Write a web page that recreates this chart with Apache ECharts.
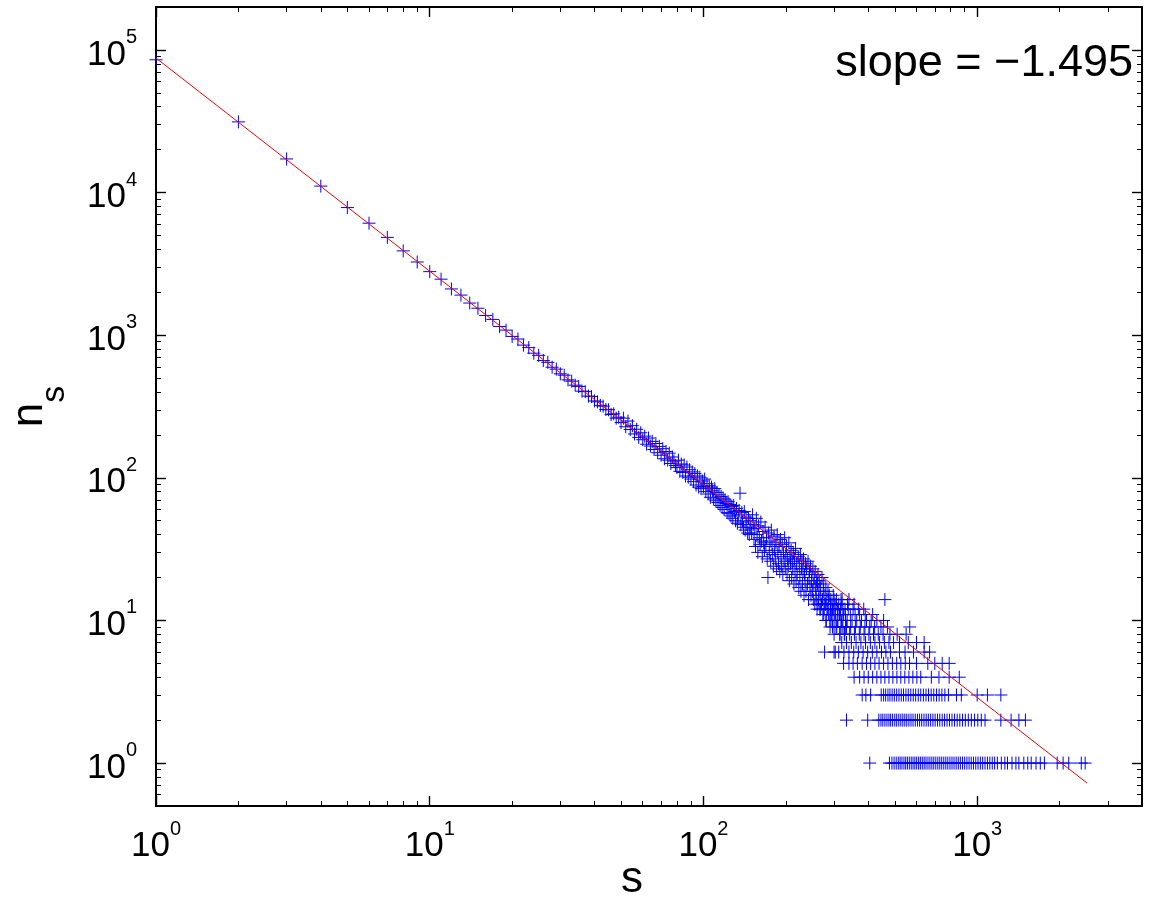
<!DOCTYPE html>
<html><head><meta charset="utf-8">
<script src="https://cdn.jsdelivr.net/npm/echarts@6/dist/echarts.min.js"></script>
<style>html,body{margin:0;padding:0;background:#fff}#c{width:1156px;height:908px}</style>
</head><body><div id="c"></div>
<script>
// ---- axis limits and ticks ----
const xLimits = [1, 4000];
const yLimits = [0.5, 200000];
const xMajorTicks = [1, 10, 100, 1000];
const xMinorTicks = [2,3,4,5,6,7,8,9,20,30,40,50,60,70,80,90,200,300,400,500,600,700,800,900,2000,3000];
const yMajorTicks = [1, 10, 100, 1000, 10000, 100000];
const yMinorTicks = [0.6,0.7,0.8,0.9,2,3,4,5,6,7,8,9,20,30,40,50,60,70,80,90,200,300,400,500,600,700,800,900,
  2000,3000,4000,5000,6000,7000,8000,9000,20000,30000,40000,50000,60000,70000,80000,90000];
const xName = 's';
const slopeText = 'slope = \u22121.495';

// ---- fitted power law line (end points) ----
const fitS = [1, 2520];
const fitN = [87700, 0.724];

// ---- cluster size distribution: [s, n_s] ----
const clusterPoints = [
[1,85300],[2,31300],[3,17200],[4,11100],[5,7850],[6,6100],[7,4850],[8,3900],[9,3260],[10,2790],
[11,2470],[12,2110],[13,1910],[14,1680],[15,1545],[16,1375],[17,1290],[18,1150],[19,1085],[20,980],
[21,940],[22,852],[23,818],[24,748],[25,722],[26,664],[27,645],[28,596],[29,578],[30,536],
[31,524],[32,486],[33,476],[34,446],[35,437],[36,405],[37,402],[38,374],[39,371],[40,346],
[41,341],[42,322],[43,318],[44,301],[45,300],[46,278],[47,281],[48,262],[49,266],[50,244],
[51,262],[52,228],[53,250],[54,218],[55,232],[56,203],[57,219],[58,192],[59,207],[60,185],
[61,196],[62,172],[63,190],[64,167],[65,180],[66,158],[67,174],[68,150],[69,166],[70,144],
[71,160],[72,136],[73,153],[74,133],[75,149],[76,126],[77,140],[78,131],[79,122],[80,118],
[81,133],[82,111],[83,125],[84,109],[85,123],[86,103],[87,119],[88,101],[89,114],[90,98],
[91,110],[92,94],[93,107],[94,89],[95,103],[96,86],[97,101],[98,84],[99,95],[100,87],
[101,98],[102,80],[103,91],[104,77],[105,88],[106,73],[107,86],[108,81],[109,71],[110,84],
[111,69],[112,79],[113,67],[114,76],[115,64],[116,74],[117,62],[118,72],[119,60],[120,70],
[121,66],[122,57],[123,68],[124,56],[125,65],[126,54],[127,63],[128,52],[129,64],[130,58],
[131,50],[132,61],[133,48],[134,55],[135,59],[136,78],[137,47],[138,57],[139,49],[140,45],
[141,58],[142,43],[143,53],[144,47],[145,41],[146,52],[147,40],[148,50],[149,45],[150,41],
[151,55],[152,47],[153,37],[154,44],[155,33],[156,52],[157,40],[158,30],[159,46],[160,38],
[161,34],[162,49],[163,36],[164,28],[165,42],[166,35],[167,31],[168,45],[169,33],[170,38],
[171,27],[172,20],[173,41],[174,30],[175,36],[176,26],[177,43],[178,34],[179,29],[180,24],
[181,39],[182,31],[183,27],[184,35],[185,23],[186,40],[187,30],[188,25],[189,33],[190,22],
[191,37],[192,28],[193,24],[194,34],[195,21],[196,30],[197,26],[198,38],[199,23],[200,29],
[201,33],[202,21],[203,27],[204,24],[205,35],[206,19],[207,28],[208,25],[209,31],[210,20],
[211,26],[212,23],[213,30],[214,18],[215,27],[216,22],[217,32],[218,19],[219,25],[220,21],
[222,28],[223,17],[224,24],[225,20],[226,29],[227,16],[228,23],[229,26],[230,18],[231,22],
[232,27],[233,15],[234,21],[235,19],[236,25],[237,16],[238,23],[240,18],[241,26],[242,14],
[243,20],[244,22],[245,17],[246,24],[247,15],[248,19],[249,21],[250,16],[251,23],[252,14],
[253,18],[254,20],[255,13],[256,22],[257,17],[258,15],[259,19],[260,12],[261,18],[262,21],
[263,14],[264,16],[265,19],[266,12],[267,15],[268,17],[270,13],[271,20],[272,14],[273,11],
[274,16],[275,18],[276,12],[277,6],[278,15],[279,13],[280,17],[281,10],[282,14],[283,12],
[285,16],[286,11],[287,13],[288,15],[290,10],[291,12],[292,14],[294,11],[295,13],[296,9],
[298,15],[299,12],[300,10],[302,13],[303,6],[304,11],[306,14],[307,9],[309,12],[310,10],
[312,13],[314,11],[315,8],[317,12],[319,10],[321,14],[323,9],[325,11],[327,8],[329,12],
[331,10],[333,9]
];

// ---- large clusters, grouped by their (small integer) count n_s ----
const sizesCount1 = [405,478,488,497,506,515,523,531,540,548,556,565,574,583,592,601,611,620,630,640,650,661,672,683,694,706,718,730,742,755,768,781,795,809,823,838,853,868,884,900,917,934,951,969,988,1007,1027,1047,1068,1090,1112,1135,1158,1185,1225,1262,1290,1340,1385,1420,1480,1530,1575,1640,1700,1760,1960,2060,2160,2400,2480];
const sizesCount2 = [333,398,437,445,452,460,468,476,483,491,500,508,517,526,535,544,553,563,573,583,594,605,616,627,639,651,663,676,689,702,716,730,745,760,776,792,809,826,845,864,884,905,928,952,978,1005,1035,1068,1220,1330,1420,1500];
const sizesCount3 = [380,392,408,446,455,463,472,480,489,498,508,518,528,538,549,560,572,584,596,609,622,636,650,664,679,694,710,726,743,762,785,840,875,1000,1090,1220];
const sizesCount4 = [355,372,386,400,415,430,445,460,476,492,509,526,544,563,582,602,622,680,725,790,860];
const sizesCount5 = [325,340,352,365,380,394,408,423,438,455,472,490,508,526,546,566,600,660,700,745,790];
const sizesCount6 = [300,312,326,340,354,368,383,398,414,430,447,464,482,520,545,585,640,670];
const sizesCount7 = [320,333,347,361,376,391,407,423,440,458,476,495,520,560,600,640];
const sizesCount8 = [300,315,328,342,356,371,386,402,418,435,453,480,510,550];
const sizesCount9 = [290,305,318,331,345,359,374,389,405,422,445,470,567];
const sizesCount10 = [280,295,308,321,335,349,363,378,394,410,430,455];
const sizesCount11 = [275,290,302,316,330,344,358,372,390,415];
const sizesCount12 = [268,283,296,310,323,338,352,368,385];
const sizesCount13 = [262,276,291,305,320,336,355];
const sizesCount14 = [258,272,286,300,318,340,460];
const countRows = [
  [1, sizesCount1],[2, sizesCount2],[3, sizesCount3],[4, sizesCount4],[5, sizesCount5],
  [6, sizesCount6],[7, sizesCount7],[8, sizesCount8],[9, sizesCount9],[10, sizesCount10],
  [11, sizesCount11],[12, sizesCount12],[13, sizesCount13],[14, sizesCount14]
];

// ---- build series data ----
const scatterData = clusterPoints.slice();
countRows.forEach(([n, sizes]) => sizes.forEach(s => scatterData.push([s, n])));
const lineData = fitS.map((s, i) => [s, fitN[i]]);

const FONT = '"Liberation Sans", Arial, Helvetica, sans-serif';
const BLACK = '#000';

function powLabel(v) {
  const e = Math.round(Math.log10(v));
  return '{b|10}{e|' + e + '}';
}
const labelRich = {
  b: { fontSize: 35, fontFamily: FONT, color: BLACK, lineHeight: 45, verticalAlign: 'bottom' },
  e: { fontSize: 20, fontFamily: FONT, color: BLACK, lineHeight: 22, verticalAlign: 'top' }
};

function makeX(pos, major, withLabels) {
  const ax = {
    type: 'log', gridIndex: 0, position: pos, min: xLimits[0], max: xLimits[1],
    axisLine: { show: major, lineStyle: { color: BLACK, width: 2 } },
    axisTick: { show: true, inside: true, length: major ? 10 : 5,
      customValues: major ? xMajorTicks : xMinorTicks,
      lineStyle: { color: BLACK, width: major ? 1.4 : 1 } },
    axisLabel: { show: withLabels, customValues: xMajorTicks, margin: 13,
      formatter: powLabel, rich: labelRich },
    splitLine: { show: false }, minorTick: { show: false }, minorSplitLine: { show: false }
  };
  if (withLabels) {
    ax.name = xName; ax.nameLocation = 'middle'; ax.nameGap = 52; ax.nameMoveOverlap = false;
    ax.nameTextStyle = { fontSize: 44, fontFamily: FONT, color: BLACK, padding: [0, 34, 0, 0] };
  }
  return ax;
}
function makeY(pos, major, withLabels) {
  const ax = {
    type: 'log', gridIndex: 0, position: pos, min: yLimits[0], max: yLimits[1],
    axisLine: { show: major, lineStyle: { color: BLACK, width: 2 } },
    axisTick: { show: true, inside: true, length: major ? 10 : 5,
      customValues: major ? yMajorTicks : yMinorTicks,
      lineStyle: { color: BLACK, width: major ? 1.4 : 1 } },
    axisLabel: { show: withLabels, customValues: yMajorTicks, margin: 19,
      formatter: powLabel, rich: labelRich },
    splitLine: { show: false }, minorTick: { show: false }, minorSplitLine: { show: false }
  };
  if (withLabels) {
    ax.name = '{n|n}{s|s}'; ax.nameLocation = 'middle'; ax.nameGap = 84; ax.nameMoveOverlap = false;
    ax.nameTextStyle = { fontFamily: FONT, color: BLACK, rich: {
      n: { fontSize: 44, fontFamily: FONT, color: BLACK, lineHeight: 44, verticalAlign: 'top' },
      s: { fontSize: 34, fontFamily: FONT, color: BLACK, lineHeight: 64, verticalAlign: 'bottom' }
    } };
  }
  return ax;
}

const chart = echarts.init(document.getElementById('c'), null, { renderer: 'canvas' });
chart.setOption({
  animation: false,
  backgroundColor: '#fff',
  grid: { left: 156, right: 14, top: 7, bottom: 102, containLabel: false, outerBoundsMode: 'none' },
  xAxis: [ makeX('bottom', true, true), makeX('bottom', false, false), makeX('top', true, false), makeX('top', false, false) ],
  yAxis: [ makeY('left', true, true), makeY('left', false, false), makeY('right', true, false), makeY('right', false, false) ],
  graphic: [{
    type: 'text', x: 1133, y: 64, z: 100,
    style: { text: slopeText, fill: BLACK, fontSize: 45, fontFamily: FONT, align: 'right', verticalAlign: 'middle' }
  }],
  series: [
    {
      type: 'scatter', xAxisIndex: 0, yAxisIndex: 0, data: scatterData,
      symbol: 'path://M5,0L5,10M0,5L10,5', symbolSize: 13,
      itemStyle: { color: '#0000ff', borderColor: '#0000ff', borderWidth: 1, opacity: 1 },
      z: 2, silent: true
    },
    {
      type: 'line', xAxisIndex: 0, yAxisIndex: 0, data: lineData,
      showSymbol: false, symbol: 'none',
      lineStyle: { color: '#ff0000', width: 1 }, z: 3, silent: true
    }
  ]
});
</script>
</body></html>
